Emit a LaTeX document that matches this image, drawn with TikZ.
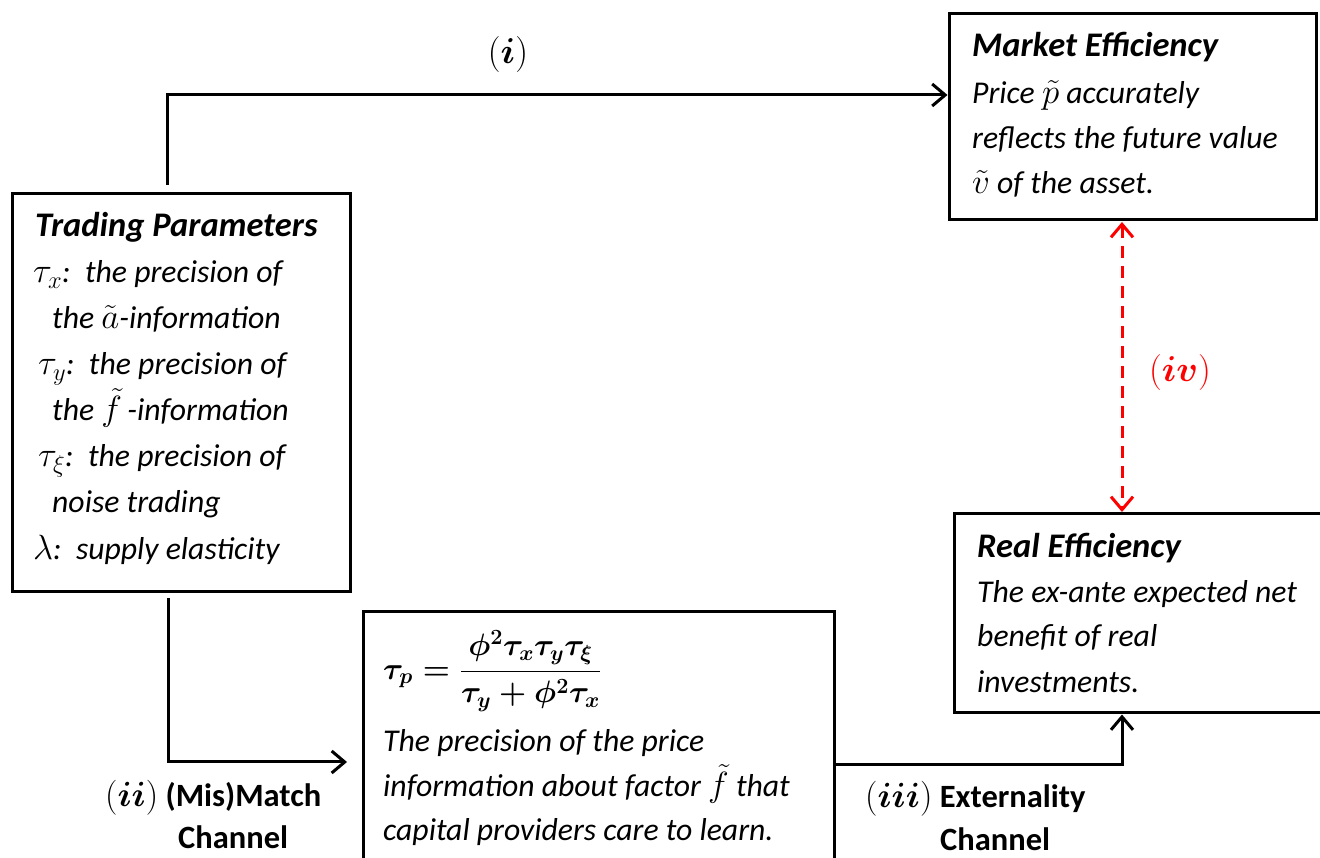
\RequirePackage{fix-cm}
\documentclass[tikz,border=0pt]{standalone}
\usepackage{amsmath,bm}
\usepackage{fontspec}
\setmainfont{Carlito}
\usetikzlibrary{arrows.meta}
\newcommand{\mth}[1]{{\fontsize{35}{40}\selectfont$#1$}}
\begin{document}
\begin{tikzpicture}[x=1pt,y=1pt,
 box/.style={draw,line width=3pt,inner sep=0pt,outer sep=0pt},
 txt/.style={anchor=base west,inner sep=0pt,font=\fontsize{31.7}{36}\selectfont\itshape},
 ttl/.style={anchor=base west,inner sep=0pt,font=\fontsize{34.5}{40}\selectfont\bfseries\itshape},
 lbl/.style={anchor=base west,inner sep=0pt,font=\fontsize{32.5}{38}\selectfont\bfseries},
 mlab/.style={inner sep=0pt,font=\fontsize{36}{40}\selectfont},
 fml/.style={anchor=west,inner sep=0pt,font=\fontsize{31}{36}\selectfont\boldmath},
 tipb/.tip={Straight Barb[length=13pt,width=22pt]},
 conn/.style={line width=3pt,-tipb},
]
\clip (0,0) rectangle (1320,857);
% boxes
\node[box,minimum width=338pt,minimum height=398pt] (tp) at (181,464) {};
\node[box,minimum width=367pt,minimum height=206pt] (me) at (1132.5,740) {};
\node[box,minimum width=371pt,minimum height=199pt] (re) at (1139.5,243.5) {};
\node[box,minimum width=471pt,minimum height=265pt] (mid) at (598.5,112.5) {};
% trading parameters
\node[ttl] (tp1) at (35,620) {Trading Parameters};
\node[txt] (tp2) at (33,574) {\mth{\tau_x}:\ \ the precision of};
\node[txt] (tp3) at (52,528) {the \mth{\tilde{a}}-information};
\node[txt] (tp4) at (38,482) {\mth{\tau_y}:\ \ the precision of};
\node[txt] (tp5) at (52,436) {the \mth{\tilde{f}}\,-information};
\node[txt] (tp6) at (38,390) {\mth{\tau_\xi}:\ \ the precision of};
\node[txt] (tp7) at (52,344) {noise trading};
\node[txt] (tp8) at (33,297) {\mth{\lambda}:\ \ supply elasticity};
% market efficiency
\node[ttl] (me1) at (972,800) {Market Efficiency};
\node[txt] (me2) at (972,753) {Price \mth{\tilde{p}} accurately};
\node[txt] (me3) at (972,708) {reflects the future value};
\node[txt] (me4) at (972,663) {\mth{\tilde{v}} of the asset.};
% real efficiency
\node[ttl] (re1) at (977,299) {Real Efficiency};
\node[txt] (re2) at (977,254) {The ex-ante expected net};
\node[txt] (re3) at (977,210) {benefit of real};
\node[txt] (re4) at (977,164) {investments.};
% middle box
\node[fml] (fm) at (383,186) {$\tau_p=\dfrac{\phi^2\tau_x\tau_y\tau_\xi}{\tau_y+\phi^2\tau_x}$};
\node[txt] (mi1) at (383,105) {The precision of the price};
\node[txt] (mi2) at (383,60) {information about factor \mth{\tilde{f}} that};
\node[txt] (mi3) at (383,17) {capital providers care to learn.};
% labels
\node[mlab] (li) at (508,802) {$(\bm{i})$};
\node[lbl] (lii) at (105,51) {\mth{(\bm{ii})} (Mis)Match};
\node[lbl] (lii2) at (178,9) {Channel};
\node[lbl] (liii) at (865,49) {\mth{(\bm{iii})} Externality};
\node[lbl] (liii2) at (940,7) {Channel};
\node[mlab,text=red] (liv) at (1180,484) {$(\bm{iv})$};
% connectors
\draw[conn] ([xshift=-14pt,yshift=9pt]tp.north) |- ([yshift=22pt,xshift=-1.5pt]me.west);
\draw[conn,shorten >=16pt] ([xshift=-13pt,yshift=-6pt]tp.south) |- ([yshift=-17.5pt]mid.west);
\draw[conn] ([yshift=-20.5pt]mid.east) -| ([xshift=-17.5pt,yshift=-1.5pt]re.south);
\draw[red,line width=3pt,dash pattern=on 12pt off 8pt,tipb-tipb] ([xshift=-10.5pt,yshift=-2pt]me.south) -- ([xshift=-17.5pt,yshift=2pt]re.north);
\end{tikzpicture}
\end{document}
